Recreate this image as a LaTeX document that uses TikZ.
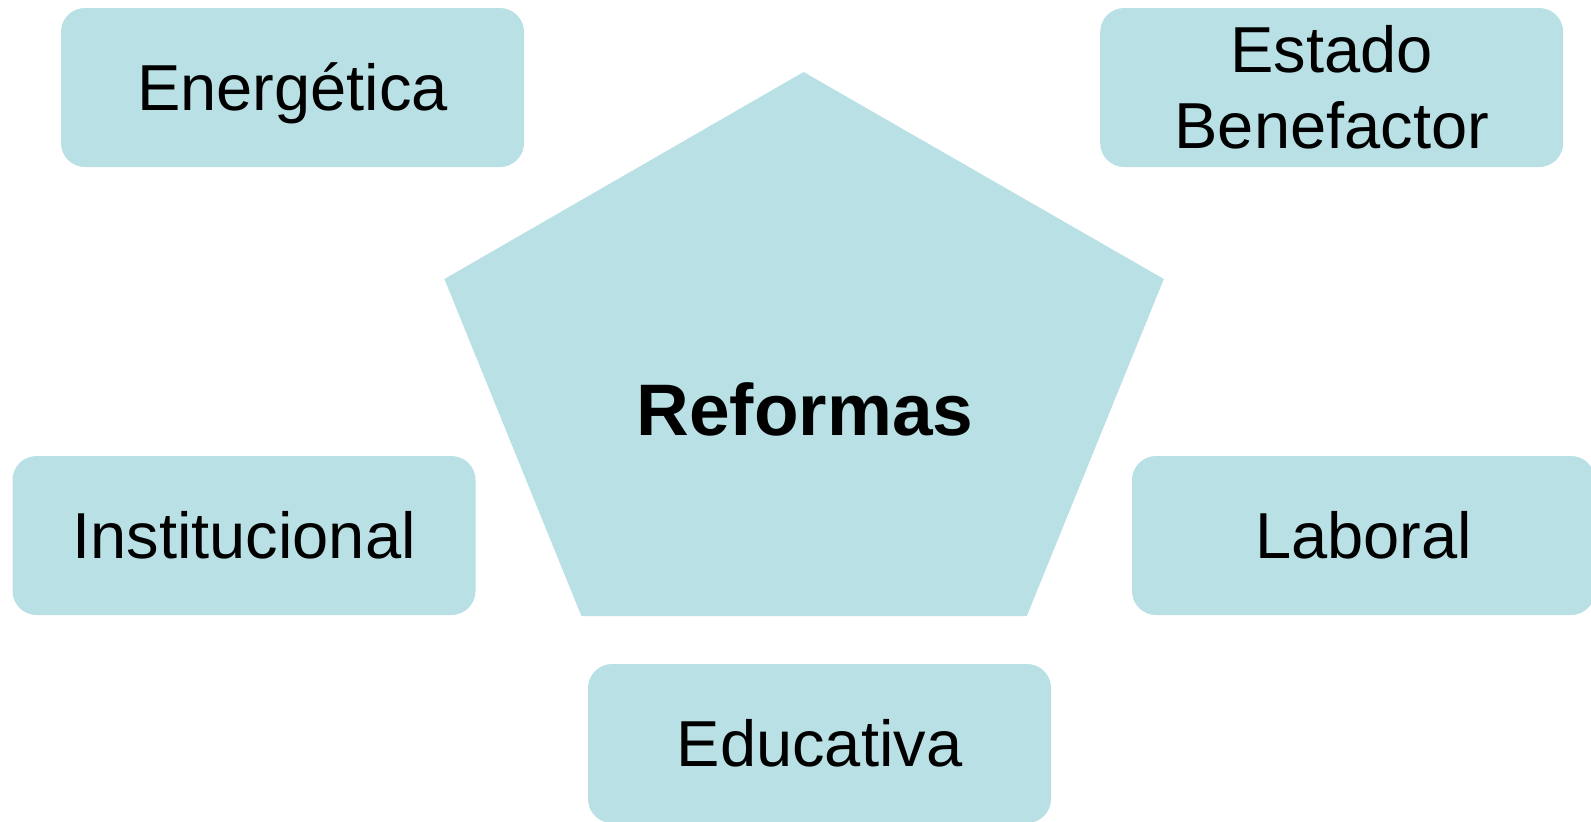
\documentclass[tikz,border=0pt]{standalone}
\usepackage{fontspec}
\setmainfont{Liberation Sans}
\definecolor{reformfill}{RGB}{185,224,228}
\begin{document}
\begin{tikzpicture}[x=0.5pt, y=-0.5pt,
    reformbox/.style={fill=reformfill, rounded corners=12pt, minimum width=231.5pt,
      minimum height=79.5pt, inner sep=0pt, font=\fontsize{32.5}{38}\selectfont},
    oneline/.style={reformbox, text height=23.3pt, text depth=0pt}]
    \useasboundingbox (0, 0) rectangle (1591, 821);
    % pentagon
    \fill [color=reformfill] (803.6, 72) -- (1163.8, 279) -- (1026.8, 616)
      -- (581.4, 616) -- (444.4, 279) -- cycle;
    \node (reformas) [text height=26.1pt, text depth=0pt,
      font=\fontsize{36.5}{40}\selectfont\bfseries] at (805, 409) {Reformas};
    %
    \node (energetica) [oneline] at (292.5, 87.5) {Energética};
    %
    \node (estado) [reformbox, align=center] at (1331.7, 87.5) {Estado\\Benefactor};
    %
    \node (institucional) [oneline] at (244, 535.5) {Institucional};
    %
    \node (laboral) [oneline] at (1363.5, 535.5) {Laboral};
    %
    \node (educativa) [oneline] at (819.5, 743.5) {Educativa};
  \end{tikzpicture}
\end{document}
